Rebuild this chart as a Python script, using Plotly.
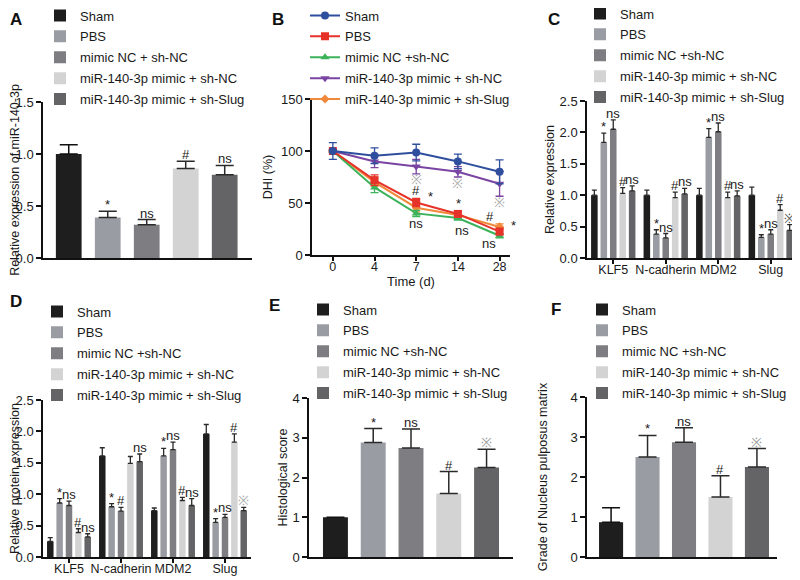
import plotly.graph_objects as go

# ---------------- data ----------------
groups_a = ["Sham", "PBS", "mimic NC + sh-NC", "miR-140-3p mimic + sh-NC", "miR-140-3p mimic + sh-Slug"]
groups = ["Sham", "PBS", "mimic NC +sh-NC", "miR-140-3p mimic + sh-NC", "miR-140-3p mimic + sh-Slug"]

a_vals = [1.00, 0.39, 0.32, 0.86, 0.80]
a_err = [0.09, 0.06, 0.05, 0.07, 0.09]
a_marks = ["", "*", "ns", "#", "ns"]

b_days = ["0", "4", "7", "14", "28"]
b_sham = [100, 95.5, 98.5, 90, 80]
b_sham_err = [8, 7.5, 8, 7, 11.5]
b_pbs = [100, 72, 50.5, 39.5, 22.5]
b_pbs_err = [0, 5, 4, 3, 3]
b_mnc = [100, 65, 40, 35.5, 18.5]
b_mnc_err = [0, 5, 3, 2, 2]
b_shnc = [100, 90, 85, 80, 68.5]
b_shnc_err = [0, 6, 7, 5, 12]
b_shslug = [100, 70, 45.5, 38.5, 27]
b_shslug_err = [0, 4, 4, 3, 3]

genes = ["KLF5", "N-cadherin", "MDM2", "Slug"]
c_vals = [
    [1.00, 1.00, 1.00, 1.00],
    [1.84, 0.38, 1.92, 0.33],
    [2.05, 0.32, 2.01, 0.38],
    [1.03, 0.96, 0.96, 0.76],
    [1.07, 1.02, 0.99, 0.44],
]
c_err = [
    [0.08, 0.08, 0.11, 0.13],
    [0.15, 0.07, 0.14, 0.04],
    [0.15, 0.07, 0.14, 0.07],
    [0.09, 0.09, 0.09, 0.09],
    [0.08, 0.09, 0.08, 0.09],
]
c_marks = [
    ["", "", "", ""],
    ["*", "*", "*", "*"],
    ["ns", "ns", "ns", "ns"],
    ["#", "#", "#", "#"],
    ["ns", "ns", "ns", "※"],
]

d_vals = [
    [0.25, 1.61, 0.74, 1.96],
    [0.86, 0.80, 1.61, 0.55],
    [0.82, 0.73, 1.71, 0.63],
    [0.39, 1.49, 0.90, 1.83],
    [0.32, 1.52, 0.82, 0.74],
]
d_err = [
    [0.06, 0.13, 0.04, 0.15],
    [0.07, 0.05, 0.12, 0.06],
    [0.07, 0.06, 0.12, 0.05],
    [0.06, 0.11, 0.05, 0.13],
    [0.05, 0.12, 0.11, 0.05],
]
d_marks = [
    ["", "", "", ""],
    ["*", "*", "*", "*"],
    ["ns", "#", "ns", "ns"],
    ["#", "", "#", "#"],
    ["ns", "ns", "ns", "※"],
]

e_vals = [1.00, 2.88, 2.74, 1.60, 2.25]
e_err = [0.0, 0.35, 0.48, 0.55, 0.46]
e_marks = ["", "*", "ns", "#", "※"]

f_vals = [0.87, 2.50, 2.87, 1.50, 2.25]
f_err = [0.36, 0.54, 0.36, 0.53, 0.46]
f_marks = ["", "*", "ns", "#", "※"]

# ---------------- style ----------------
FONT = "Liberation Sans, Arial, Helvetica, sans-serif"
TXT = "#1a1a1a"
bar_colors = ["#1e1e1e", "#9a9ca4", "#7e7e82", "#d3d3d3", "#646466"]
line_colors = ["#2f4f9e", "#e6332a", "#3cb35a", "#7a45a2", "#f0893a"]
line_symbols = ["circle", "square", "triangle-up", "triangle-down", "diamond"]

# the page body keeps an 8px margin, so the figure is sized to the visible area
OFF = 8
W, H = 800 - OFF, 580 - OFF


def px_x(p):
    return (p - OFF) / W


def px_y(p):
    return 1 - (p - OFF) / H


fig = go.Figure()
annotations = []


def single_bars(vals, errs, marks, names, xa, ya, legend, cap, tag):
    for i, (v, e) in enumerate(zip(vals, errs)):
        fig.add_trace(go.Bar(
            x=[names[i]], y=[v], name=names[i], xaxis=xa, yaxis=ya, legend=legend,
            legendgroup=f"{tag}{i}", legendrank=1000 + i,
            marker=dict(color=bar_colors[i], line=dict(width=0)),
            width=0.66, offset=-0.33,
            error_y=dict(type="data", array=[e], arrayminus=[0], symmetric=False,
                         color="#2a2a2a" if i else "#111", thickness=1.5, width=cap),
            hoverinfo="skip",
        ))
        if marks[i]:
            annotations.append(dict(
                x=names[i], y=v + e, xref=xa, yref=ya, text=marks[i], showarrow=False,
                yanchor="bottom", yshift=-3,
                font=dict(size=13, color="#999" if marks[i] == "※" else TXT)))


def grouped_bars(vals, errs, marks, xa, ya, legend, mark_gray, tag):
    slot, bw = 0.18, 0.125
    for i in range(5):
        off = -0.45 + i * slot + (slot - bw) / 2
        fig.add_trace(go.Bar(
            x=genes, y=vals[i], name=groups[i], xaxis=xa, yaxis=ya, legend=legend,
            legendgroup=f"{tag}{i}", legendrank=1000 + i,
            marker=dict(color=bar_colors[i], line=dict(width=0)),
            width=bw, offset=off,
            error_y=dict(type="data", array=errs[i], arrayminus=[0] * 4, symmetric=False,
                         color="#2a2a2a", thickness=1.3, width=2.5),
            hoverinfo="skip",
        ))
        for g in range(4):
            m = marks[i][g]
            if m:
                annotations.append(dict(
                    x=g + off + bw / 2, y=vals[i][g] + errs[i][g], xref=xa, yref=ya, text=m,
                    showarrow=False, yanchor="bottom", yshift=-3,
                    font=dict(size=13, color=(mark_gray if m == "※" else TXT))))


# Panel A
single_bars(a_vals, a_err, a_marks, groups_a, "x", "y", "legend", 9, "a")

# Panel B (added in reverse so Sham is drawn on top; legendrank keeps legend order)
b_series = [(b_sham, b_sham_err), (b_pbs, b_pbs_err), (b_mnc, b_mnc_err),
            (b_shnc, b_shnc_err), (b_shslug, b_shslug_err)]
for i in reversed(range(5)):
    vals, errs = b_series[i]
    fig.add_trace(go.Scatter(
        x=b_days, y=vals, name=groups[i], xaxis="x2", yaxis="y2", legend="legend2",
        legendgroup=f"b{i}", legendrank=1000 + i,
        mode="lines+markers",
        line=dict(color=line_colors[i], width=2),
        marker=dict(symbol=line_symbols[i], size=8 if i < 4 else 7, color=line_colors[i]),
        error_y=dict(type="data", array=errs, color=line_colors[i], thickness=1.3, width=4),
        hoverinfo="skip",
    ))

# B significance marks: (series, day index, text, xshift, yshift)
b_marks = [
    (3, 2, "※", 0, -13), (3, 3, "※", 0, -12), (3, 4, "※", 0, -19),
    (1, 2, "#", 0, 12), (1, 2, "*", 14, 6), (2, 2, "ns", 0, -10),
    (1, 3, "*", 1, 10), (2, 3, "ns", 4, -12),
    (1, 4, "#", -10, 15), (1, 4, "*", 14, 6), (2, 4, "ns", -11, -8),
]
for s, d, t, xs, ys in b_marks:
    annotations.append(dict(
        x=d, y=b_series[s][0][d], xref="x2", yref="y2", text=t, showarrow=False,
        xshift=xs, yshift=ys,
        font=dict(size=13, color="#aaa" if t == "※" else TXT)))

# Panel C, D
grouped_bars(c_vals, c_err, c_marks, "x3", "y3", "legend3", "#555", "c")
grouped_bars(d_vals, d_err, d_marks, "x4", "y4", "legend4", "#aaa", "d")

# Panel E, F
single_bars(e_vals, e_err, e_marks, groups, "x5", "y5", "legend5", 9, "e")
single_bars(f_vals, f_err, f_marks, groups, "x6", "y6", "legend6", 9, "f")


# ---------------- axes ----------------
def xaxis(dom, anchor, rng, labels):
    d = dict(domain=[px_x(dom[0]), px_x(dom[1])], anchor=anchor, type="category", range=rng,
             showline=True, linecolor="#111", linewidth=1.5, showgrid=False, zeroline=False,
             tickfont=dict(size=12.5, color=TXT, family=FONT))
    if labels:
        d.update(ticks="outside", ticklen=4, tickwidth=1.5, tickcolor="#111",
                 showticklabels=True, ticklabelstandoff=-5)
    else:
        d.update(ticks="", showticklabels=False)
    return d


def yaxis(dom, anchor, rng, dtick, fmt, title, standoff):
    return dict(domain=[px_y(dom[1]), px_y(dom[0])], anchor=anchor, range=rng, dtick=dtick,
                tickformat=fmt, showline=True, linecolor="#111", linewidth=1.5,
                ticks="outside", ticklen=5, tickwidth=1.5, tickcolor="#111",
                showgrid=False, zeroline=False,
                tickfont=dict(size=13, color=TXT, family=FONT),
                title=dict(text=title, font=dict(size=12.5, color=TXT, family=FONT), standoff=standoff))


layout = dict(
    width=W, height=H, margin=dict(l=0, r=0, t=0, b=0, autoexpand=False),
    paper_bgcolor="white", plot_bgcolor="white",
    font=dict(family=FONT, color=TXT),
    barmode="overlay", showlegend=True,
    xaxis=xaxis((43, 252), "y", [-0.66, 4.7], False),
    yaxis=yaxis((102, 258), "x", [0, 1.5], 0.5, ".1f", "Relative expression of miR-140-3p", 6),
    xaxis2=xaxis((312, 510), "y2", [-0.5, 4.25], True),
    yaxis2=yaxis((99, 255), "x2", [0, 150], 50, "d", "DHI (%)", 6),
    xaxis3=xaxis((587, 797), "y3", [-0.5, 3.5], True),
    yaxis3=yaxis((101, 258), "x3", [0, 2.5], 0.5, ".1f", "Relative expression", 2),
    xaxis4=xaxis((43, 251), "y4", [-0.5, 3.5], True),
    yaxis4=yaxis((400, 557), "x4", [0, 2.5], 0.5, ".1f", "Relative protein expression", 6),
    xaxis5=xaxis((309, 513), "y5", [-0.7, 4.7], False),
    yaxis5=yaxis((398, 557), "x5", [0, 4], 1, "d", "Histological score", 2),
    xaxis6=xaxis((587, 777), "y6", [-0.66, 4.55], False),
    yaxis6=yaxis((397, 557), "x6", [0, 4], 1, "d", "Grade of Nucleus pulposus matrix", 20),
)
layout["xaxis2"]["title"] = dict(text="Time (d)", font=dict(size=13, color=TXT, family=FONT), standoff=0)


def legend(x, ytop):
    return dict(x=px_x(x), y=px_y(ytop), xanchor="left", yanchor="top", xref="paper", yref="paper",
                bgcolor="rgba(0,0,0,0)", borderwidth=0, itemwidth=30, tracegroupgap=1,
                font=dict(size=13, color=TXT, family=FONT), traceorder="grouped")


layout["legend"] = legend(40, 0.5)
layout["legend2"] = legend(305, 0.5)
layout["legend3"] = legend(580, -1.5)
layout["legend4"] = legend(37, 296.5)
layout["legend5"] = legend(303, 294.5)
layout["legend6"] = legend(582, 294.5)

letters = [("A", 8, 8), ("B", 270, 8), ("C", 546, 8), ("D", 8, 290), ("E", 267, 294), ("F", 549, 298)]
for t, x, y in letters:
    annotations.append(dict(text=f"<b>{t}</b>", x=px_x(x), y=px_y(y), xref="paper", yref="paper",
                            xanchor="left", yanchor="top", showarrow=False,
                            font=dict(size=17, color="#111", family=FONT)))

layout["annotations"] = annotations
fig.update_layout(**layout)
fig.write_html("out.html")
